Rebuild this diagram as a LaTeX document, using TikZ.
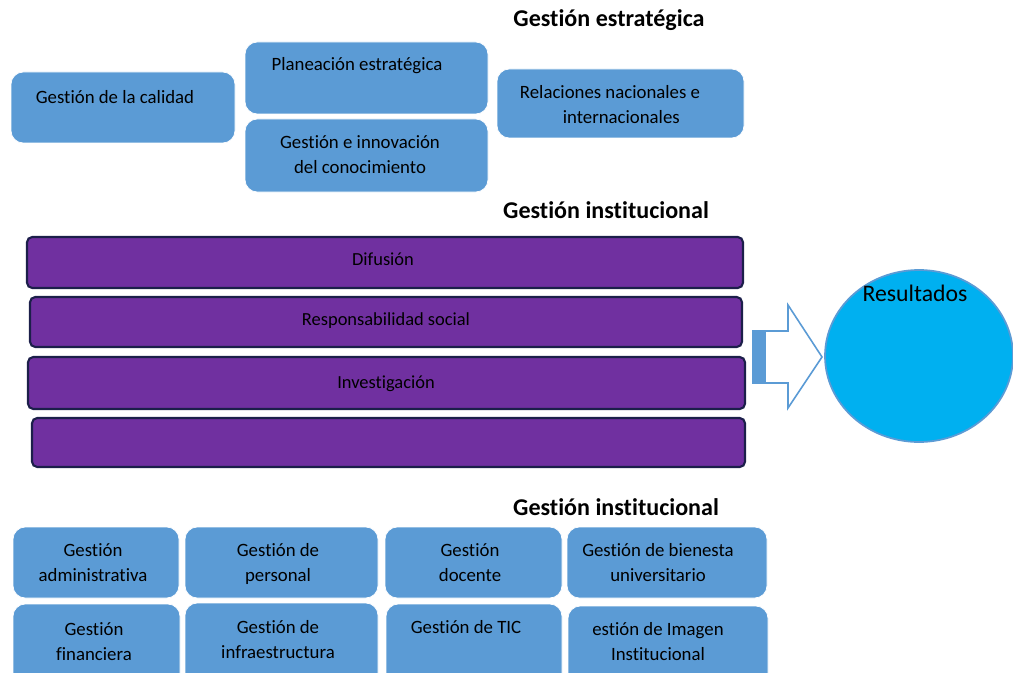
\documentclass[tikz,border=0pt]{standalone}
\usepackage{fontspec}
\setmainfont{Carlito}[Ligatures=CommonOff]
\usetikzlibrary{fit,shapes.geometric}
\definecolor{cajaazul}{HTML}{5B9BD5}
\definecolor{morado}{HTML}{7030A0}
\definecolor{bordemorado}{HTML}{1C1F4A}
\definecolor{celeste}{HTML}{00B0F0}
\begin{document}
\begin{tikzpicture}[x=0.02cm,y=-0.02cm,
  caja/.style={fill=cajaazul,draw=white,rounded corners=7pt,inner sep=0pt},
  barra/.style={fill=morado,draw=bordemorado,line width=1.2pt,rounded corners=3pt,inner sep=0pt},
  txt/.style={align=center,inner sep=0pt,font=\fontsize{10.7}{14.2}\selectfont},
  txtb/.style={align=center,inner sep=0pt,font=\fontsize{10.5}{12}\selectfont},
  titulo/.style={inner sep=0pt,font=\fontsize{13.7}{16}\selectfont\bfseries}]
\useasboundingbox (0,0) rectangle (1013,672);
%
% gestion estrategica
\node[titulo] (tit1) at (609,20) {Gestión estratégica};
\node[caja,fit={(11,72) (235,143)}] (calidad) {};
\node[txt] (tcalidad) at (115,97) {Gestión de la calidad};
\node[caja,fit={(245,42) (488,114)}] (planea) {};
\node[txt] (tplanea) at (357,66) {Planeación estratégica};
\node[caja,fit={(245,119) (488,192)}] (innova) {};
\node[txt] (tinnova) at (360,155) {Gestión e innovación\\ del conocimiento};
\node[caja,fit={(497,69) (744,138)}] (relac) {};
\node[txt] (trelac) at (610,105) {Relaciones nacionales e\\ \hspace{1.2em}internacionales};
%
% gestion institucional (barras)
\node[titulo] (tit2) at (606,210) {Gestión institucional};
\node[barra,fit={(27,237) (743,288)}] (difus) {};
\node[txtb] (tdifus) at (383,259) {Difusión};
\node[barra,fit={(30,297) (742,347)}] (respo) {};
\node[txtb] (trespo) at (386,321) {Responsabilidad social};
\node[barra,fit={(28,357) (745,409)}] (inves) {};
\node[txtb] (tinves) at (386,384) {Investigación};
\node[barra,fit={(32,418) (745,467)}] (vacia) {};
%
% flecha y resultados
\draw[draw=cajaazul,fill=white,line width=0.9pt,line join=miter]
  (753,331) -- (788,331) -- (788,305) -- (822,357) -- (788,408) -- (788,383) -- (753,383) -- cycle;
\fill[cajaazul] (753,331) rectangle (766,383);
\node[ellipse,fill=celeste,draw=cajaazul,line width=1pt,inner sep=0pt,
  minimum width=3.76cm,minimum height=3.44cm] (result) at (919,356) {};
\node[inner sep=0pt,font=\fontsize{13.5}{15}\selectfont] (tresult) at (915,293) {Resultados};
%
% gestion institucional (cajas)
\node[titulo] (tit3) at (616,507) {Gestión institucional};
\node[caja,fit={(13,527) (179,598)}] (admin) {};
\node[txt] (tadmin) at (93,563) {Gestión\\ administrativa};
\node[caja,fit={(185,527) (378,598)}] (perso) {};
\node[txt] (tperso) at (278,564) {Gestión de\\ personal};
\node[caja,fit={(385,527) (562,598)}] (docen) {};
\node[txt] (tdocen) at (470,563) {Gestión\\ docente};
\node[caja,fit={(567,527) (767,598)}] (biene) {};
\node[txt] (tbiene) at (658,563) {Gestión de bienesta\\ universitario};
%
\node[caja,fit={(13,604) (180,690)}] (finan) {};
\node[txt] (tfinan) at (94,642) {Gestión\\ financiera};
\node[caja,fit={(185,603) (378,690)}] (infra) {};
\node[txt] (tinfra) at (278,640) {Gestión de\\ infraestructura};
\node[caja,fit={(386,604) (562,690)}] (tic) {};
\node[txt] (ttic) at (466,627) {Gestión de TIC};
\node[caja,fit={(568,606) (768,690)}] (image) {};
\node[txt] (timage) at (658,642) {estión de Imagen\\ Institucional};
%
\end{tikzpicture}
\end{document}
